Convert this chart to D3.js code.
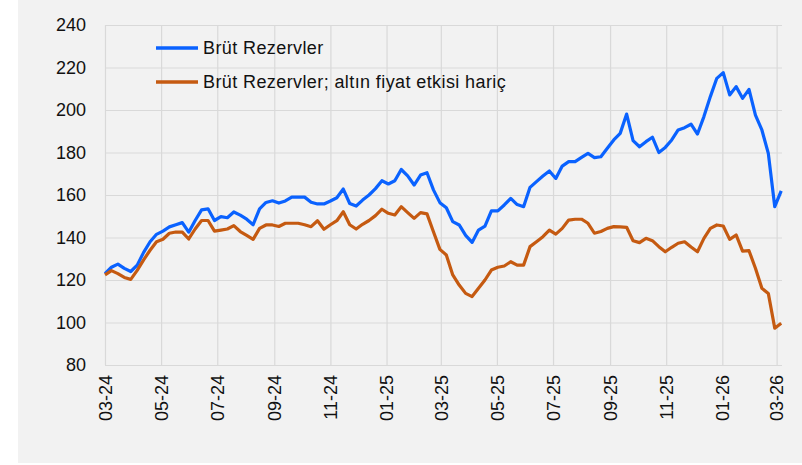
<!DOCTYPE html>
<html>
<head>
<meta charset="utf-8">
<script src="https://cdn.jsdelivr.net/npm/d3@7"></script>
<style>
  body { margin: 0; background: #ffffff; }
  svg text { font-family: "Liberation Sans", Arial, sans-serif; fill: #111; }
</style>
</head>
<body>
<script>
// Chart size
var svgWidth = 802;
var svgHeight = 465;

// Weekly observations, first one on Friday 1 March 2024
var startDate = "2024-03-01";

// Brüt Rezervler (bn USD), one value per week
var brutRezerv = [
  123, 126, 127.5, 125.5, 124, 127, 133, 138, 141.5, 143,
  145, 146, 147, 142.5, 148, 153, 153.5, 148, 149.8, 149.3,
  152, 150.5, 148.6, 146, 153.5, 156.5, 157.3, 156.2, 157.2, 159,
  159, 159, 156.6, 155.8, 155.8, 157.2, 158.7, 162.8, 156, 154.8,
  157.6, 160, 163, 166.7, 165.2, 166.7, 172, 169, 164.7, 169.4,
  170.5, 162.4, 156.4, 154, 147.5, 145.9, 141, 137.7, 143.5, 145.4,
  152.5, 152.5, 155.3, 158.4, 155.5, 154.5, 163.6, 166.3, 168.9, 171.3,
  167.8, 173.6, 175.7, 175.7, 177.7, 179.6, 177.6, 178, 182, 185.9,
  189, 198.1, 185.6, 182.7, 185.1, 187.2, 180, 182.4, 185.9, 190.6,
  191.7, 193.3, 188.7, 196.9, 206.3, 214.9, 217.6, 207.1, 211, 205.5,
  209.7, 197.6, 190.6, 179.6, 154.5, 161.9
];

// Brüt Rezervler; altın fiyat etkisi hariç
var brutRezervAltinHaric = [
  122.4, 124.4, 123, 121.2, 120.3, 124.5, 129.5, 134, 138, 139.2,
  142, 142.6, 142.5, 139.3, 144, 148, 148, 143, 143.5, 144,
  145.6, 142.8, 141, 139.1, 144.3, 145.9, 145.9, 145.2, 146.7, 146.7,
  146.7, 146, 145.1, 147.9, 143.9, 146, 147.9, 152.1, 146, 144,
  146.2, 148, 150.3, 153.3, 151.4, 150.6, 154.5, 151.7, 149, 151.7,
  151.1, 142.7, 134.4, 131.8, 122.4, 117.6, 113.7, 112.2, 116.1, 120,
  124.7, 126, 126.6, 128.6, 127, 127, 135.7, 138, 140.4, 143.5,
  141.6, 144.3, 148.2, 148.6, 148.6, 146.7, 142, 142.8, 144.3, 145.1,
  145, 144.8, 138.5, 137.6, 139.6, 138.5, 135.7, 133.3, 135.4, 137.3,
  138, 135.5, 133.3, 139.6, 144.3, 145.9, 145.4, 139.1, 141.2, 133.6,
  133.8, 125.5, 116.1, 113.7, 97.3, 99.6
];

// Axis ticks
var xTickLabels = ["03-24", "05-24", "07-24", "09-24", "11-24", "01-25", "03-25",
                   "05-25", "07-25", "09-25", "11-25", "01-26", "03-26"];
var yTicks = [80, 100, 120, 140, 160, 180, 200, 220, 240];

var seriesNames = ["Brüt Rezervler", "Brüt Rezervler; altın fiyat etkisi hariç"];
var seriesColors = ["#0a62ff", "#c55a11"];

// Plot area
var margin = { top: 25, right: 20, bottom: 100, left: 105 };
var chartWidth = svgWidth - margin.left - margin.right;
var chartHeight = svgHeight - margin.top - margin.bottom;

var svg = d3.select("body")
  .append("svg")
  .attr("width", svgWidth)
  .attr("height", svgHeight);

// grey panel behind the chart
svg.append("rect")
  .attr("x", 18)
  .attr("y", 0)
  .attr("width", svgWidth - 18)
  .attr("height", 463)
  .attr("fill", "#f2f2f2");

var chartGroup = svg.append("g")
  .attr("transform", `translate(${margin.left}, ${margin.top})`);

// weekly dates for the categories
var t0 = d3.utcParse("%Y-%m-%d")(startDate);
var dates = brutRezerv.map((d, i) => d3.utcDay.offset(t0, i * 7));

// tick dates from the labels (MM-YY)
var parseTick = d3.utcParse("%m-%y");
var tickDates = xTickLabels.map(s => parseTick(s));

var xTimeScale = d3.scaleUtc()
  .domain([dates[0], dates[dates.length - 1]])
  .range([0, chartWidth - 0.8]);

var yLinearScale = d3.scaleLinear()
  .domain([80, 240])
  .range([chartHeight, 0]);

// horizontal gridlines + y labels
var leftAxis = d3.axisLeft(yLinearScale)
  .tickValues(yTicks)
  .tickSize(-chartWidth)
  .tickPadding(19)
  .tickFormat(d3.format("d"));

var yAxisG = chartGroup.append("g").call(leftAxis);
yAxisG.select(".domain").remove();
yAxisG.selectAll("line").attr("stroke", "#d9d9d9").attr("stroke-width", 1.2);
yAxisG.selectAll("text")
  .style("font-size", "18px")
  .attr("fill", "#111");

// vertical gridlines + rotated date labels
var bottomAxis = d3.axisBottom(xTimeScale)
  .tickValues(tickDates)
  .tickSize(-chartHeight)
  .tickPadding(10)
  .tickFormat((d, i) => xTickLabels[i]);

var xAxisG = chartGroup.append("g")
  .attr("transform", "translate(0, " + chartHeight + ")")
  .call(bottomAxis);
xAxisG.select(".domain").remove();
xAxisG.selectAll("line").attr("stroke", "#d9d9d9").attr("stroke-width", 1.2);
xAxisG.selectAll("text")
  .style("font-size", "18px")
  .attr("fill", "#111")
  .attr("text-anchor", "end")
  .attr("transform", "rotate(-90)")
  .attr("x", -10)
  .attr("y", 0)
  .attr("dy", "0.35em");

// lines
var allSeries = [brutRezerv, brutRezervAltinHaric];

var drawLine = d3.line()
  .x((d, i) => xTimeScale(dates[i]))
  .y(d => yLinearScale(d));

allSeries.forEach(function(values, s) {
  chartGroup.append("path")
    .attr("d", drawLine(values))
    .attr("fill", "none")
    .attr("stroke", seriesColors[s])
    .attr("stroke-width", 3.2)
    .attr("stroke-linejoin", "round");
});

// legend
var legend = svg.append("g");
seriesNames.forEach(function(name, s) {
  var ly = 48 + s * 34;
  legend.append("line")
    .attr("x1", 156).attr("x2", 198)
    .attr("y1", ly).attr("y2", ly)
    .attr("stroke", seriesColors[s])
    .attr("stroke-width", 3.5);
  legend.append("text")
    .attr("x", 203)
    .attr("y", ly)
    .attr("dy", "0.35em")
    .style("font-size", "18px")
    .style("letter-spacing", "0.4px")
    .text(name);
});
</script>
</body>
</html>
